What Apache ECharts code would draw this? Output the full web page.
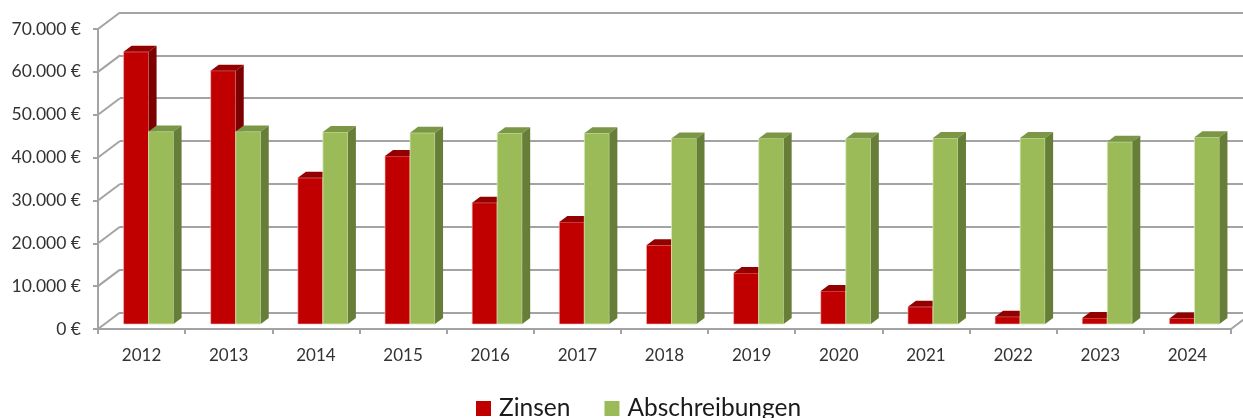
<!DOCTYPE html>
<html>
<head>
<meta charset="utf-8">
<script src="https://cdn.jsdelivr.net/npm/echarts@6/dist/echarts.min.js"></script>
<style>
html,body{margin:0;padding:0;background:#fff;}
#c{width:1243px;height:418px;}
</style>
</head>
<body>
<div id="c"></div>
<script>
// ---- data ----
var years = ['2012','2013','2014','2015','2016','2017','2018','2019','2020','2021','2022','2023','2024'];
var zinsen = [63500, 59100, 34100, 39200, 28300, 23800, 18400, 11900, 7700, 4000, 1700, 1400, 1300];
var abschreibungen = [44900, 44900, 44800, 44600, 44500, 44500, 43300, 43300, 43300, 43400, 43400, 42500, 43600];
var yTicks = [0, 10000, 20000, 30000, 40000, 50000, 60000, 70000];

// ---- styling constants ----
var WALL_DX = 22, WALL_DY = -16.5;   // oblique depth of the chart box
var BAR_DX = 7, BAR_DY = -5;         // bar front face depth position
var SIDE_DX = 8, SIDE_DY = -6;       // bar depth
var GRID_COLOR = '#A3A3A3';
var FONT = 'Lato';

function fmt(v){ return String(v).replace(/\B(?=(\d{3})+(?!\d))/g, '.') + ' €'; }

function barRenderer(which, colors){
  return function(params, api){
    var idx = api.value(0), val = api.value(1);
    var base = api.coord([idx, 0]);
    var topP = api.coord([idx, val]);
    var catW = api.size([1, 0])[0];
    var bw = catW * 0.287;
    var cx = base[0] + BAR_DX;
    var x0 = which === 0 ? cx - bw : cx;
    var x1 = x0 + bw;
    var yb = base[1] + BAR_DY;
    var yt = topP[1] + BAR_DY;
    return {
      type: 'group',
      children: [
        { type: 'rect', shape: { x: x0, y: yt, width: bw, height: yb - yt },
          style: { fill: colors[0], stroke: colors[3], lineWidth: 1 } },
        { type: 'polygon', shape: { points: [[x0, yt],[x1, yt],[x1 + SIDE_DX, yt + SIDE_DY],[x0 + SIDE_DX, yt + SIDE_DY]] },
          style: { fill: colors[1] } },
        { type: 'polygon', shape: { points: [[x1, yt],[x1 + SIDE_DX, yt + SIDE_DY],[x1 + SIDE_DX, yb + SIDE_DY],[x1, yb]] },
          style: { fill: colors[2] } }
      ]
    };
  };
}

var chart = echarts.init(document.getElementById('c'), null, { renderer: 'canvas' });
chart.setOption({
  animation: false,
  backgroundColor: '#ffffff',
  grid: [
    { left: 98, right: 12, top: 29, bottom: 89 },
    { left: 98 + WALL_DX, right: 12 - WALL_DX, top: 29 + WALL_DY, bottom: 89 - WALL_DY }
  ],
  xAxis: [
    { type: 'category', gridIndex: 0, data: years, boundaryGap: true,
      axisLine: { show: true, lineStyle: { color: GRID_COLOR, width: 2 } },
      axisTick: { show: true, length: 5, lineStyle: { color: GRID_COLOR, width: 2 } },
      axisLabel: { color: '#333333', fontFamily: FONT, fontSize: 17, margin: 18 },
      splitLine: { show: false } },
    { type: 'category', gridIndex: 1, data: years, show: false }
  ],
  yAxis: [
    { type: 'value', gridIndex: 0, min: 0, max: 70000, interval: 10000,
      axisLine: { show: true, lineStyle: { color: GRID_COLOR, width: 2 } },
      axisTick: { show: true, length: 5, lineStyle: { color: GRID_COLOR, width: 2 } },
      axisLabel: { color: '#333333', fontFamily: FONT, fontSize: 17.5, margin: 17, formatter: fmt },
      splitLine: { show: false } },
    { type: 'value', gridIndex: 1, min: 0, max: 70000, interval: 10000,
      axisLine: { show: false }, axisTick: { show: false }, axisLabel: { show: false },
      splitLine: { show: true, lineStyle: { color: GRID_COLOR, width: 2 } } }
  ],
  legend: {
    left: 471, top: 391,
    icon: 'rect', itemWidth: 15, itemHeight: 15, itemGap: 34,
    textStyle: { color: '#1a1a1a', fontFamily: FONT, fontSize: 24.5, padding: [0, 0, 0, 3] },
    data: ['Zinsen', 'Abschreibungen']
  },
  series: [
    { type: 'custom', name: 'wall', xAxisIndex: 0, yAxisIndex: 0, silent: true, z: 1,
      data: yTicks.map(function(v){ return [0, v]; }),
      renderItem: function(params, api){
        var p = api.coord([0, api.value(1)]);
        var x = params.coordSys.x;
        return { type: 'line', shape: { x1: x, y1: p[1], x2: x + WALL_DX, y2: p[1] + WALL_DY },
          style: { stroke: GRID_COLOR, lineWidth: 2 } };
      } },
    { type: 'custom', name: 'floorRight', xAxisIndex: 0, yAxisIndex: 0, silent: true, z: 1,
      data: [[years.length - 1, 0]],
      renderItem: function(params, api){
        var p = api.coord([api.value(0), 0]);
        var x = params.coordSys.x + params.coordSys.width;
        return { type: 'line', shape: { x1: x, y1: p[1], x2: x + WALL_DX, y2: p[1] + WALL_DY },
          style: { stroke: GRID_COLOR, lineWidth: 2 } };
      } },
    { type: 'custom', name: 'Zinsen', xAxisIndex: 0, yAxisIndex: 0, z: 3,
      itemStyle: { color: '#C00000' },
      data: zinsen.map(function(v, i){ return [i, v]; }),
      renderItem: barRenderer(0, ['#C00000', '#920000', '#7C0000', 'rgba(255,180,180,0.6)']) },
    { type: 'custom', name: 'Abschreibungen', xAxisIndex: 0, yAxisIndex: 0, z: 3,
      itemStyle: { color: '#9BBB59' },
      data: abschreibungen.map(function(v, i){ return [i, v]; }),
      renderItem: barRenderer(1, ['#9BBB59', '#7B9746', '#677E38', 'rgba(215,235,185,0.8)']) }
  ]
});
</script>
</body>
</html>
